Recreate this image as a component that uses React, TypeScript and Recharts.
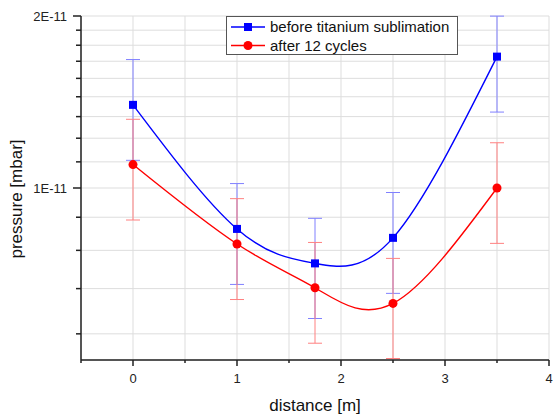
import React from 'react';
import { LineChart, Line, XAxis, YAxis, CartesianGrid, ErrorBar, Legend, Label } from 'recharts';

// ---- data ----
const distance = [0, 1, 1.75, 2.5, 3.5];
const beforeValues = [1.398e-11, 0.848e-11, 0.738e-11, 0.818e-11, 1.698e-11];
// lower / upper visible extents of the error bars (upper of the last point is cut by the frame)
const beforeErrLow = [0.28e-11, 0.17e-11, 0.147e-11, 0.164e-11, 0.34e-11];
const beforeErrHigh = [0.28e-11, 0.17e-11, 0.147e-11, 0.164e-11, 0.301e-11];
const afterValues = [1.099e-11, 0.798e-11, 0.669e-11, 0.628e-11, 1.0e-11];
const afterErrors = [0.22e-11, 0.16e-11, 0.134e-11, 0.125e-11, 0.2e-11];

const seriesNames = ['before titanium sublimation', 'after 12 cycles'];

const xTicks = [-0.5, 0, 0.5, 1, 1.5, 2, 2.5, 3, 3.5, 4];
const yMajorTicks = [1e-11, 2e-11];
const yTicks = [
  5.556e-12, 6.667e-12, 7.778e-12, 8.889e-12, 1e-11,
  1.1111e-11, 1.2222e-11, 1.3333e-11, 1.4444e-11, 1.5556e-11,
  1.6667e-11, 1.7778e-11, 1.8889e-11, 2e-11,
];
const yLabels: Record<string, string> = { '1e-11': '1E-11', '2e-11': '2E-11' };

const data = distance.map((d, i) => ({
  distance: d,
  before: beforeValues[i],
  beforeErr: [beforeErrLow[i], beforeErrHigh[i]],
  after: afterValues[i],
  afterErr: afterErrors[i],
}));

const FONT = '"Liberation Sans", Arial, sans-serif';
const AXIS = '#222';
const BLUE = '#0000ff';
const RED = '#ff0000';

const isMajorY = (v: number) => yMajorTicks.includes(v);

const LeftTick = (props: any) => {
  const { x, y, payload } = props;
  const major = isMajorY(payload.value);
  return (
    <g>
      <line x1={x} x2={x - (major ? 8 : 5)} y1={y} y2={y} stroke={AXIS} strokeWidth={1.5} />
      {major && (
        <text x={x - 14} y={y + 4.6} textAnchor="end" fontSize={13} fill={AXIS} fontFamily={FONT}>
          {yLabels[String(payload.value)]}
        </text>
      )}
    </g>
  );
};

const RightTick = (props: any) => {
  const { x, y, payload } = props;
  const major = isMajorY(payload.value);
  return <line x1={x} x2={x - (major ? 7 : 4)} y1={y} y2={y} stroke={AXIS} strokeWidth={1.5} />;
};

const BottomTick = (props: any) => {
  const { x, y, payload } = props;
  const major = Number.isInteger(payload.value);
  return (
    <g>
      <line x1={x} x2={x} y1={y} y2={y + (major ? 6 : 3)} stroke={AXIS} strokeWidth={1.5} />
      {major && (
        <text x={x} y={y + 23} textAnchor="middle" fontSize={13} fill={AXIS} fontFamily={FONT}>
          {String(payload.value)}
        </text>
      )}
    </g>
  );
};

const TopTick = (props: any) => {
  const { x, y, payload } = props;
  const major = Number.isInteger(payload.value);
  return <line x1={x} x2={x} y1={y} y2={y + (major ? 6 : 4)} stroke={AXIS} strokeWidth={1.5} />;
};

const SquareDot = (props: any) => {
  const { cx, cy, index } = props;
  if (cx == null || cy == null) return <g key={`s${index}`} />;
  return <rect key={`s${index}`} x={cx - 4} y={cy - 4} width={8} height={8} fill={BLUE} />;
};

const CircleDot = (props: any) => {
  const { cx, cy, index } = props;
  if (cx == null || cy == null) return <g key={`c${index}`} />;
  return <circle key={`c${index}`} cx={cx} cy={cy} r={4.5} fill={RED} />;
};

const LegendBox = () => (
  <svg width={232} height={39} style={{ display: 'block' }}>
    <rect x={0.5} y={0.5} width={231} height={38} fill="#fff" stroke="#555" strokeWidth={1} />
    <line x1={5} x2={39} y1={11} y2={11} stroke={BLUE} strokeWidth={1.5} />
    <rect x={18} y={7} width={8} height={8} fill={BLUE} />
    <text x={44} y={16.3} fontSize={15} fill="#111" fontFamily={FONT}>{seriesNames[0]}</text>
    <line x1={5} x2={39} y1={29.5} y2={29.5} stroke={RED} strokeWidth={1.5} />
    <circle cx={22} cy={29.5} r={4.5} fill={RED} />
    <text x={44} y={34.8} fontSize={15} fill="#111" fontFamily={FONT}>{seriesNames[1]}</text>
  </svg>
);

export default function App() {
  return (
    <div style={{ position: 'absolute', left: 0, top: 0, width: 554, height: 416, background: '#fff' }}>
      <LineChart
        width={554}
        height={416}
        data={data}
        margin={{ top: 16, right: 5, bottom: 0, left: 0 }}
      >
        <CartesianGrid stroke="#dddddd" strokeWidth={1} />
        <XAxis
          dataKey="distance"
          type="number"
          domain={[-0.5, 4]}
          ticks={xTicks}
          interval={0}
          height={56}
          tickSize={0}
          tickMargin={0}
          tickLine={false}
          tick={<BottomTick />}
          axisLine={{ stroke: AXIS, strokeWidth: 1.5 }}
          allowDataOverflow
        >
          <Label
            content={(p: any) => {
              const vb = p.viewBox || { x: 81, y: 360, width: 468 };
              return (
                <text x={vb.x + vb.width / 2} y={vb.y + 51} textAnchor="middle" fontSize={17} fill="#111" fontFamily={FONT}>
                  distance [m]
                </text>
              );
            }}
          />
        </XAxis>
        <XAxis
          xAxisId="top"
          orientation="top"
          type="number"
          domain={[-0.5, 4]}
          ticks={xTicks}
          interval={0}
          height={0}
          tickSize={0}
          tickMargin={0}
          tickLine={false}
          tick={<TopTick />}
          axisLine={{ stroke: AXIS, strokeWidth: 1.5 }}
          allowDataOverflow
        />
        <YAxis
          type="number"
          scale="log"
          domain={[5e-12, 2e-11]}
          ticks={yTicks}
          interval={0}
          width={81}
          tickSize={0}
          tickMargin={0}
          tickLine={false}
          tick={<LeftTick />}
          axisLine={{ stroke: AXIS, strokeWidth: 1.5 }}
          allowDataOverflow
        >
          <Label
            content={() => (
              <text
                x={21.5}
                y={199}
                transform="rotate(-90 21.5 199)"
                textAnchor="middle"
                fontSize={17}
                fill="#111"
                fontFamily={FONT}
              >
                pressure [mbar]
              </text>
            )}
          />
        </YAxis>
        <YAxis
          yAxisId="right"
          orientation="right"
          type="number"
          scale="log"
          domain={[5e-12, 2e-11]}
          ticks={yTicks}
          interval={0}
          width={0}
          tickSize={0}
          tickMargin={0}
          tickLine={false}
          tick={<RightTick />}
          axisLine={{ stroke: AXIS, strokeWidth: 1.5 }}
          allowDataOverflow
        />
        <Legend
          layout="vertical"
          verticalAlign="middle"
          align="center"
          wrapperStyle={{ position: 'absolute', left: 226, top: 16, width: 232, height: 39 }}
          content={() => <LegendBox />}
        />
        <Line
          name={seriesNames[0]}
          dataKey="before"
          type="natural"
          stroke={BLUE}
          strokeWidth={1.4}
          dot={SquareDot}
          activeDot={false}
          isAnimationActive={false}
        >
          <ErrorBar dataKey="beforeErr" width={7} stroke="#8080ff" strokeWidth={1} direction="y" />
        </Line>
        <Line
          name={seriesNames[1]}
          dataKey="after"
          type="natural"
          stroke={RED}
          strokeWidth={1.4}
          dot={CircleDot}
          activeDot={false}
          isAnimationActive={false}
        >
          <ErrorBar dataKey="afterErr" width={7} stroke="#ff8080" strokeWidth={1} direction="y" />
        </Line>
      </LineChart>
    </div>
  );
}
